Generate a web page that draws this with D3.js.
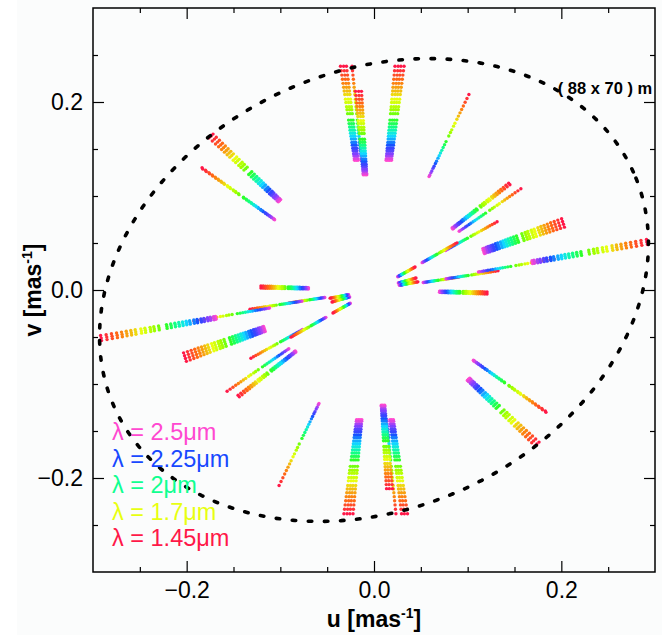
<!DOCTYPE html>
<html><head><meta charset="utf-8">
<script src="https://cdn.jsdelivr.net/npm/d3@7"></script>
<style>body{margin:0;background:#fff}svg{display:block}</style>
</head><body><svg id="c" width="662" height="635"></svg>
<script>
// spectral channels (micron)
const wavelengths = [1.45,1.48,1.51,1.54,1.57,1.60,1.63,1.66,1.70,1.73,1.77,1.80,1.84,
                     1.91,1.95,1.99,2.03,2.07,2.11,2.15,2.20,2.24,2.29,2.33,2.38,2.42,2.47,2.50];
// projected baselines (m), one entry per time sample; mirrored (-u,-v) points are plotted too
const baselineU = [-10.7,-9.7,-8.8,-7.0,  -5.9,-4.9,-4.0,  6.7,7.7,8.6,9.6,  30.3,
                   -52.7,-52.0,-51.4,  -54.9,-54.7,  43.4,43.0,  46.9,  39.3,  26.5,
                   59.9,60.2,60.5,60.8,  27.1,  39.6,  57.5,  87.0,87.1,87.3,  13.1,13.4,14.0,  36.1,36.1];
const baselineV = [71.2,71.2,71.2,71.2,  63.2,63.2,63.2,  71.2,71.2,71.2,71.2,  62.2,
                   48.4,49.0,49.6,  38.9,38.5,  33.5,34.0,  32.2,  21.7,  15.0,
                   22.7,21.8,20.9,20.0,  4.1,  6.1,  9.9,  16.1,15.3,14.5,  7.3,3.8,2.6,  -1.3,-0.6];
const legendLambdas = [2.5, 2.25, 2, 1.7, 1.45];
const legendLabels = ["λ = 2.5μm","λ = 2.25μm","λ = 2μm","λ = 1.7μm","λ = 1.45μm"];
const colorStops  = [1.45,     1.55,     1.70,     1.80,     1.90,     2.00,     2.10,     2.25,     2.40,     2.50];
const colorValues = ["#ff1848","#ff7010","#e8ff10","#a0ff00","#30ff20","#10ff90","#10e0ff","#1848ff","#9040ff","#ff48d0"];
const majorTicks = [-0.2, 0.0, 0.2];
const minorTicks = [-0.25,-0.15,-0.1,-0.05,0.05,0.1,0.15,0.25];
const ellipseAxes = [0.304, 0.2325];   // semi-axes, mas^-1
const ellipseTilt = 24.4;              // degrees
const apertureLabel = "( 88 x 70 ) m";

const svg = d3.select("#c");
const L = 93, R = 655, T = 8, B = 572;
const x = d3.scaleLinear().domain([-0.3,0.3]).range([L,R]);
const y = d3.scaleLinear().domain([-0.3,0.3]).range([B,T]);
const color = d3.scaleLinear().domain(colorStops).range(colorValues).clamp(true);
const MAS = Math.PI/180/3600/1000;
const font = "Liberation Sans, Arial, sans-serif";

svg.append("rect").attr("x",17).attr("y",0).attr("width",645).attr("height",635).attr("fill","#fbfcfc");

// uv points
const pts = [];
baselineU.forEach((bu,i)=>{
  const bv = baselineV[i];
  wavelengths.slice().reverse().forEach(l=>{
    const f = MAS/(l*1e-6);
    pts.push({u: bu*f, v: bv*f, l});
    pts.push({u: -bu*f, v: -bv*f, l});
  });
});
svg.append("g").selectAll("circle").data(pts).join("circle")
  .attr("cx",d=>x(d.u)).attr("cy",d=>y(d.v)).attr("r",1.7)
  .attr("fill",d=>color(d.l));

// ellipse
const th = ellipseTilt*Math.PI/180;
const ang = d3.range(0, 361, 2).map(a=>a*Math.PI/180);
const ell = ang.map(t=>[ellipseAxes[0]*Math.cos(t)*Math.cos(th) - ellipseAxes[1]*Math.sin(t)*Math.sin(th),
                        ellipseAxes[0]*Math.cos(t)*Math.sin(th) + ellipseAxes[1]*Math.sin(t)*Math.cos(th)]);
svg.append("path").datum(ell)
  .attr("d", d3.line().x(d=>x(d[0])).y(d=>y(d[1])))
  .attr("fill","none").attr("stroke","#000").attr("stroke-width",3.6)
  .attr("stroke-linecap","round").attr("stroke-dasharray","3.5 12.6");

svg.append("text").attr("x",x(0.297)).attr("y",y(0.209))
  .attr("text-anchor","end").attr("font-family",font)
  .attr("font-weight","bold").attr("font-size",16.5).text(apertureLabel);

// frame and axes
function styleAxis(g){ g.select(".domain").remove(); g.selectAll("line").attr("stroke","#000").attr("stroke-width",1.2);
  g.selectAll("text").attr("font-family",font).attr("font-size",23).attr("fill","#000"); }
const fmt = d3.format(".1f");
svg.append("g").attr("transform",`translate(0,${B})`).call(d3.axisBottom(x).tickValues(majorTicks).tickSize(-11).tickPadding(10).tickFormat(fmt)).call(styleAxis);
svg.append("g").attr("transform",`translate(0,${B})`).call(d3.axisBottom(x).tickValues(minorTicks).tickSize(-5).tickFormat("")).call(styleAxis);
svg.append("g").attr("transform",`translate(0,${T})`).call(d3.axisTop(x).tickValues(majorTicks).tickSize(-11).tickFormat("")).call(styleAxis);
svg.append("g").attr("transform",`translate(0,${T})`).call(d3.axisTop(x).tickValues(minorTicks).tickSize(-5).tickFormat("")).call(styleAxis);
svg.append("g").attr("transform",`translate(${L},0)`).call(d3.axisLeft(y).tickValues(majorTicks).tickSize(-11).tickPadding(10).tickFormat(fmt)).call(styleAxis);
svg.append("g").attr("transform",`translate(${L},0)`).call(d3.axisLeft(y).tickValues(minorTicks).tickSize(-5).tickFormat("")).call(styleAxis);
svg.append("g").attr("transform",`translate(${R},0)`).call(d3.axisRight(y).tickValues(majorTicks).tickSize(-11).tickFormat("")).call(styleAxis);
svg.append("g").attr("transform",`translate(${R},0)`).call(d3.axisRight(y).tickValues(minorTicks).tickSize(-5).tickFormat("")).call(styleAxis);
svg.append("rect").attr("x",L).attr("y",T).attr("width",R-L).attr("height",B-T)
  .attr("fill","none").attr("stroke","#000").attr("stroke-width",1.5);

// axis titles
const xt = svg.append("text").attr("x",(L+R)/2).attr("y",627).attr("text-anchor","middle")
  .attr("font-family",font).attr("font-weight","bold").attr("font-size",23);
xt.append("tspan").text("u [mas");
xt.append("tspan").attr("font-size",14).attr("dy",-9).text("-1");
xt.append("tspan").attr("dy",9).text("]");
const yt = svg.append("text").attr("transform",`translate(41,${(T+B)/2}) rotate(-90)`).attr("text-anchor","middle")
  .attr("font-family",font).attr("font-weight","bold").attr("font-size",23);
yt.append("tspan").text("v [mas");
yt.append("tspan").attr("font-size",14).attr("dy",-9).text("-1");
yt.append("tspan").attr("dy",9).text("]");

// legend
svg.append("g").selectAll("text").data(legendLambdas).join("text")
  .attr("x",112).attr("y",(d,i)=>440+i*26.6)
  .attr("font-family",font).attr("font-size",23.5)
  .attr("fill",d=>color(d)).text((d,i)=>legendLabels[i]);
</script></body></html>
